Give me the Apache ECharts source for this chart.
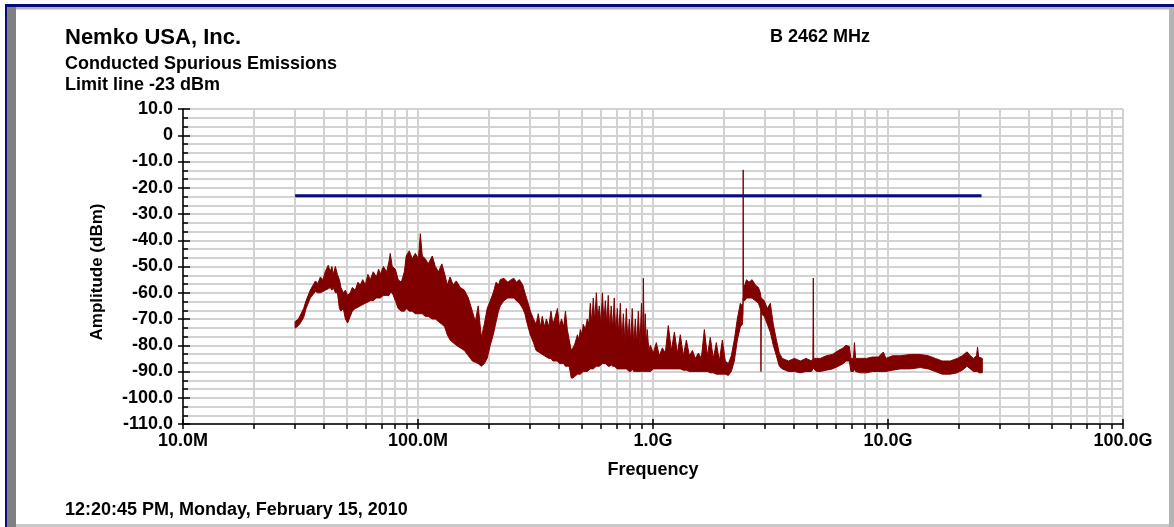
<!DOCTYPE html>
<html>
<head>
<meta charset="utf-8">
<title>Conducted Spurious Emissions</title>
<script src="https://cdn.jsdelivr.net/npm/echarts@6.0.0/dist/echarts.min.js"></script>
<style>
html, body { margin: 0; padding: 0; background: #fff; }
#chart { width: 1174px; height: 527px; }
</style>
</head>
<body>
<div id="chart"></div>
<script>
// spectrum: frequency in MHz, upper and lower edge of the trace in dBm
const freqMHz = [
  30, 31, 31.6, 32.6, 33.4, 34.8, 36.6, 37.5, 38.4, 39.4, 40.3, 41.5, 42.3, 43, 43.6, 44.5, 45.4, 46.3, 47, 48.1,
  49.1, 50.2, 51.5, 52.5, 54.1, 55.5, 56.8, 58.2, 59.7, 61.2, 62.7, 64.5, 66.5, 68, 69.1, 71.2, 73.6, 75.3, 76.2, 77.7,
  80.1, 82.3, 84.9, 87.5, 89.1, 91.8, 94.5, 97.4, 100.4, 102.3, 104.3, 107.4, 110.5, 115, 118.5, 122.3, 126.3, 130, 133.2, 137,
  141, 145.5, 151.4, 157.5, 163.8, 170.3, 175.3, 180.4, 186, 191.5, 197, 203, 209, 215, 220, 224, 232, 241, 249, 256,
  262, 270, 279, 285, 292, 300.6, 310,
  318, 325, 331.5, 338, 345, 352, 360, 368, 375, 384, 392, 400, 408, 417, 424, 432, 440, 449, 456, 463,
  470, 477, 484, 490.6, 498, 505, 515, 525, 533, 541, 549, 557, 565, 574, 582, 591, 600, 609, 618, 627,
  636, 645, 654, 664, 674, 684, 694, 705, 715, 726, 737, 748, 759, 770, 781, 793, 804, 816, 828, 841,
  853, 866, 880, 893, 903, 910, 917, 927, 936, 945, 960, 974,
  1003, 1033, 1064, 1096, 1128, 1162, 1197, 1233, 1270, 1307, 1346, 1387, 1428, 1471, 1514, 1560, 1606, 1654, 1704, 1753,
  1806, 1860, 1915, 1973, 2031, 2092, 2154, 2218, 2285, 2353, 2400, 2415, 2420, 2425, 2460, 2500, 2560, 2640, 2725, 2810,
  2862, 2874, 2880, 2890, 2975, 3065, 3156, 3250, 3350, 3448, 3550, 3770, 4000, 4236, 4480, 4730, 4790, 4810, 4830, 4960,
  5153, 5460, 5800, 6150, 6450, 6620, 6850, 6950, 7130, 7200, 7280, 7625, 8100, 8580, 9100, 9550, 9800, 10450, 11280, 12440,
  13720, 14840, 15900, 17000, 18410, 19720, 20700, 21700, 22400, 23100, 23800, 24050, 24300, 25190
];
const traceTop = [
  -71, -70, -68.5, -66, -63, -59, -55.5, -56.5, -54, -55, -52, -49.5, -52, -50, -53, -50, -53, -55, -58, -60,
  -59, -61, -60, -58, -59, -56, -57, -55, -57, -53, -55, -52, -54, -51, -53, -50, -52, -48, -45, -50,
  -51, -55, -56, -52, -46, -44, -47, -45, -47, -37.5, -46, -47, -49, -46, -50, -52, -49, -53, -57, -54,
  -57, -55.5, -58, -59, -62, -67, -71, -65, -77, -72, -66, -63, -60, -56, -57, -55, -54.5, -56, -55, -54.5,
  -56, -55, -57, -60, -63, -67, -70,
  -72, -68, -73, -69, -73, -70, -73, -67, -72, -69, -66, -73, -70, -73, -67, -74, -78, -82, -81, -80,
  -78, -76, -78, -74, -76, -72, -74, -70, -72, -64, -72, -62, -71, -60, -70, -65, -72, -60, -71, -63,
  -72, -61, -74, -65, -74, -62, -75, -66, -76, -64, -78, -68, -79, -66, -78, -70, -79, -66, -80, -70,
  -80, -67, -80, -64, -80, -54.5, -79, -68, -80, -74, -82, -80,
  -83, -79, -84, -81, -83, -72.5, -82, -75, -83, -76, -84, -78, -84, -82, -85, -83, -85, -74, -84, -77,
  -85, -79, -86, -78, -86, -87, -84, -78, -70, -64, -65, -64, -13.2, -58, -57, -55, -56, -55, -57, -58,
  -60, -61, -62, -62, -63, -66, -64, -72, -78, -83, -85, -86, -85, -86, -85, -86, -85, -54.4, -85, -85,
  -85, -84, -83.5, -82, -81, -80, -80.5, -85, -85, -79, -85, -85, -85, -84.5, -84.5, -82.6, -85, -84, -84, -83.5,
  -83.5, -84, -85, -86, -86, -85, -84, -82.5, -84, -85, -84, -80.7, -84.5, -85
];
const traceBottom = [
  -73.5, -72.5, -71.5, -69.5, -66, -62, -59.5, -60, -60, -59.5, -59, -58.5, -58, -59, -58, -60, -60, -66, -67, -66,
  -70, -71.5, -69, -67, -66, -65.5, -65, -64.5, -64, -63.5, -63, -63, -62, -62, -62, -61, -61, -61, -60, -60,
  -63, -66, -67, -67, -66, -67, -67, -68, -68, -68, -68, -69, -69, -70, -70, -71, -72, -73, -76, -78,
  -79, -80, -81, -82, -84, -86, -86.5, -87, -88, -87, -85, -80, -76, -71, -67, -65, -63, -62, -62, -62,
  -63, -64, -66, -68, -72, -76, -79,
  -82, -82.5, -83, -83.5, -84, -84.5, -85, -85, -86, -86, -86, -87, -87, -87, -88, -88, -88, -92.5, -92.5, -92,
  -91.5, -91, -91, -91, -90.5, -90, -90, -90, -89.5, -89, -89, -89, -88.5, -88, -88, -88, -87.5, -87, -87, -87,
  -87.5, -88, -88, -87.5, -88, -88, -88.5, -89, -89, -89, -89, -89, -89, -89, -89.5, -90, -90, -89, -90, -90,
  -90, -90, -90, -90, -90, -90, -90, -90, -90, -90, -90, -90,
  -89, -89, -89, -89, -89, -89, -89, -89, -89, -89, -89.5, -89.5, -90, -90, -90, -90, -90, -90, -90, -90.5,
  -90.5, -91, -91, -91, -91, -91.5, -90, -86, -78, -73, -72, -68, -62, -63, -63, -62, -62, -62, -63, -64,
  -66, -67, -90, -68, -69, -72, -75, -80, -84, -88, -89, -90, -90, -90.5, -90, -90, -89, -88, -89, -90,
  -90, -89.5, -89, -88, -87, -86, -86, -90, -90, -89, -90, -90.5, -90.5, -90, -90, -90, -90, -89.5, -89, -89,
  -88.5, -89, -90, -91, -91, -90.5, -89.5, -88, -89, -90, -90, -90, -90.5, -90.5
];

// limit line
const limitFreqMHz = [30, 25000];
const limitDbm = [-23, -23];

// axes
const xTickValues = [10, 100, 1000, 10000, 100000];
const xTickLabels = ['10.0M', '100.0M', '1.0G', '10.0G', '100.0G'];
const minorMultipliers = [2, 3, 4, 5, 6, 7, 8, 9];
const yMin = -110, yMax = 10, yStep = 10;

const FONT = '"Liberation Sans", Arial, Helvetica, sans-serif';
const GRID_COLOR = '#d2d2d2';

const minorFreqs = [];
xTickValues.slice(0, -1).forEach(d => minorMultipliers.forEach(m => minorFreqs.push([d * m, yMin])));

function xLabel(v) {
  const i = xTickValues.findIndex(t => Math.abs(t - v) / t < 1e-6);
  return i >= 0 ? xTickLabels[i] : '';
}

// log minor grid lines (2..9 of each decade) and their small ticks under the axis
function renderMinorGrid(params, api) {
  const f = api.value(0);
  const top = api.coord([f, yMax]);
  const bot = api.coord([f, yMin]);
  const x = Math.round(top[0]);
  return {
    type: 'group',
    children: [
      { type: 'line', shape: { x1: x, y1: top[1], x2: x, y2: bot[1] - 1 }, style: { stroke: GRID_COLOR, lineWidth: 2 } },
      { type: 'line', shape: { x1: x, y1: bot[1], x2: x, y2: bot[1] + 5 }, style: { stroke: '#000', lineWidth: 1.5 } }
    ]
  };
}

// the noisy analyser trace, drawn as the band between its upper and lower edge
function renderTrace(params, api) {
  const pts = [];
  for (let i = 0; i < freqMHz.length; i++) pts.push(api.coord([freqMHz[i], traceTop[i]]));
  for (let i = freqMHz.length - 1; i >= 0; i--) pts.push(api.coord([freqMHz[i], traceBottom[i]]));
  return {
    type: 'polygon',
    shape: { points: pts },
    style: { fill: '#800000', stroke: '#800000', lineWidth: 1 }
  };
}

const labelStyle = { color: '#000', fontFamily: FONT, fontWeight: 'bold', fontSize: 18 };

const chart = echarts.init(document.getElementById('chart'), null, { renderer: 'canvas' });
const option = {
  animation: false,
  backgroundColor: '#fff',
  textStyle: { fontFamily: FONT },
  grid: { left: 183, top: 109, width: 940, height: 315, outerBoundsMode: 'none', containLabel: false },
  xAxis: [
    {
      type: 'log', logBase: 10, min: 10, max: 100000, position: 'bottom',
      name: 'Frequency', nameLocation: 'middle', nameGap: 37,
      nameTextStyle: labelStyle,
      axisLine: { show: true, onZero: false, lineStyle: { color: '#000', width: 1.5 } },
      axisTick: { show: true, length: 5, lineStyle: { color: '#000', width: 1.5 } },
      axisLabel: Object.assign({ margin: 8, formatter: xLabel, showMinLabel: true, showMaxLabel: true }, labelStyle),
      splitLine: { show: true, lineStyle: { color: GRID_COLOR, width: 2 } }
    },
    {
      type: 'log', logBase: 10, min: 10, max: 100000, position: 'bottom',
      axisLine: { show: false, onZero: false },
      axisTick: { show: true, inside: true, length: 5, lineStyle: { color: '#000', width: 1.5 } },
      axisLabel: { show: false },
      splitLine: { show: false }
    }
  ],
  yAxis: [
    {
      type: 'value', min: yMin, max: yMax, interval: yStep, position: 'left',
      axisLine: { show: true, onZero: false, lineStyle: { color: '#000', width: 1.5 } },
      axisTick: { show: true, length: 5, lineStyle: { color: '#000', width: 1.5 } },
      axisLabel: Object.assign({ margin: 10, formatter: v => (v === 0 ? '0' : v.toFixed(1)) }, labelStyle),
      splitLine: { show: true, lineStyle: { color: GRID_COLOR, width: 2 } },
      minorTick: { show: false, splitNumber: 3 },
      minorSplitLine: { show: true, lineStyle: { color: GRID_COLOR, width: 2 } }
    },
    {
      type: 'value', min: yMin, max: yMax, interval: yStep, position: 'left',
      axisLine: { show: false, onZero: false },
      axisTick: { show: true, inside: true, length: 7, lineStyle: { color: '#000', width: 1.5 } },
      minorTick: { show: true, splitNumber: 3, length: 5, lineStyle: { color: '#000', width: 1.5 } },
      axisLabel: { show: false },
      splitLine: { show: false }
    }
  ],
  graphic: [
    // window frame
    { type: 'rect', shape: { x: 5, y: 4, width: 1169, height: 3 }, style: { fill: '#0a0a80' }, silent: true },
    { type: 'rect', shape: { x: 5, y: 4, width: 2.5, height: 523 }, style: { fill: '#0a0a80' }, silent: true },
    { type: 'rect', shape: { x: 7.5, y: 7, width: 1166.5, height: 2.5 }, style: { fill: '#b4b4b4' }, silent: true },
    { type: 'rect', shape: { x: 7.5, y: 7, width: 8.5, height: 520 }, style: { fill: '#808080' }, silent: true },
    { type: 'rect', shape: { x: 1169, y: 7, width: 5, height: 520 }, style: { fill: '#b4b4b4' }, silent: true },
    { type: 'rect', shape: { x: 16, y: 524, width: 1153, height: 3 }, style: { fill: '#c8c8c8' }, silent: true },
    // texts
    { type: 'text', x: 65, y: 38, style: { text: 'Nemko USA, Inc.', font: 'bold 22px ' + FONT, fill: '#000', align: 'left', verticalAlign: 'middle' } },
    { type: 'text', x: 65, y: 64, style: { text: 'Conducted Spurious Emissions', font: 'bold 18px ' + FONT, fill: '#000', align: 'left', verticalAlign: 'middle' } },
    { type: 'text', x: 65, y: 85, style: { text: 'Limit line -23 dBm', font: 'bold 18px ' + FONT, fill: '#000', align: 'left', verticalAlign: 'middle' } },
    { type: 'text', x: 770, y: 37, style: { text: 'B 2462 MHz', font: 'bold 18px ' + FONT, fill: '#000', align: 'left', verticalAlign: 'middle' } },
    { type: 'text', x: 65, y: 510, style: { text: '12:20:45 PM, Monday, February 15, 2010', font: 'bold 18px ' + FONT, fill: '#000', align: 'left', verticalAlign: 'middle' } },
    { type: 'text', x: 97, y: 272, rotation: Math.PI / 2, style: { text: 'Amplitude (dBm)', font: 'bold 17px ' + FONT, fill: '#000', align: 'center', verticalAlign: 'middle' } }
  ],
  series: [
    {
      name: 'minor grid',
      type: 'custom',
      xAxisIndex: 0, yAxisIndex: 0,
      z: 1,
      silent: true,
      renderItem: renderMinorGrid,
      encode: { x: 0, y: 1 },
      data: minorFreqs
    },
    {
      name: 'Trace',
      type: 'custom',
      xAxisIndex: 0, yAxisIndex: 0,
      z: 2,
      silent: true,
      renderItem: renderTrace,
      encode: { x: 0, y: 1 },
      data: [[1000, -60]]
    },
    {
      name: 'Limit',
      type: 'line',
      xAxisIndex: 0, yAxisIndex: 0,
      z: 3,
      showSymbol: false,
      symbol: 'none',
      lineStyle: { color: '#0b0b80', width: 3 },
      data: limitFreqMHz.map((f, i) => [f, limitDbm[i]])
    }
  ]
};
chart.setOption(option);
</script>
</body>
</html>
